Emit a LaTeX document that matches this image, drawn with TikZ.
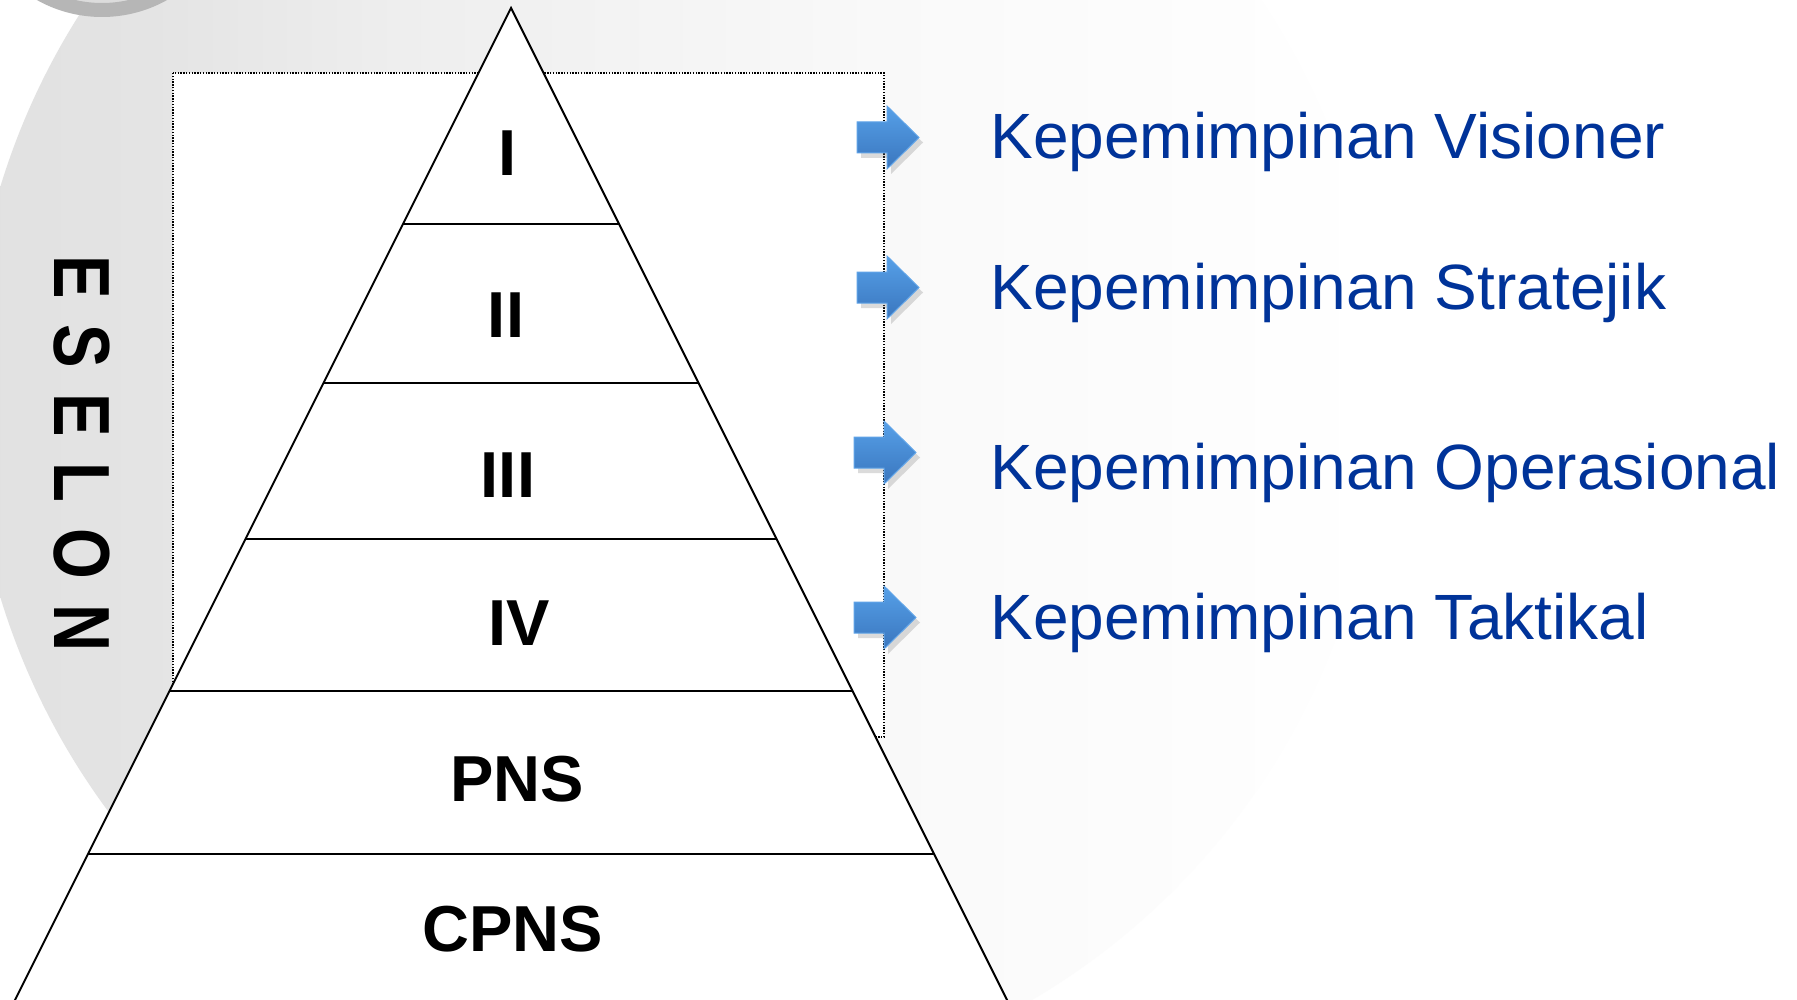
\documentclass[tikz,border=0pt]{standalone}
\usepackage{fontspec}
\setmainfont{Liberation Sans}
\usetikzlibrary{shadows}
\definecolor{txtblue}{RGB}{0,51,153}
\definecolor{arrtop}{RGB}{86,160,232}
\definecolor{arrbot}{RGB}{58,118,190}
\definecolor{arredge}{RGB}{96,164,232}
\definecolor{ringgray}{RGB}{182,182,182}
\definecolor{ringin}{RGB}{220,220,220}
\definecolor{bgA}{RGB}{225,225,225}
\definecolor{bgB}{RGB}{228,228,228}
\definecolor{bgC}{RGB}{238,238,238}
\definecolor{bgD}{RGB}{249,249,249}
\definecolor{bgE}{RGB}{255,255,255}
\pgfdeclarehorizontalshading{bgshade}{100bp}{color(0bp)=(bgA); color(25bp)=(bgA); color(31.4bp)=(bgB); color(40.2bp)=(bgC); color(57.2bp)=(bgD); color(75bp)=(bgE); color(100bp)=(bgE)}
\newcommand\blkarrow[2]{%
  \path[blkarrowstyle] (#1,#2-15.5) -- (#1+30,#2-15.5) -- (#1+30,#2-31.5) -- (#1+62,#2)
    -- (#1+30,#2+31.5) -- (#1+30,#2+15.5) -- (#1,#2+15.5) -- cycle;}
\begin{document}
\begin{tikzpicture}[x=0.5pt,y=-0.5pt,
  blkarrowstyle/.style={top color=arrtop, bottom color=arrbot, draw=arredge, line width=0.5pt,
    drop shadow={opacity=0.28, shadow xshift=2pt, shadow yshift=-2.5pt}},
  tier/.style={draw=black, line width=1pt},
  romlabel/.style={anchor=base, inner sep=0pt, font=\fontsize{32.5pt}{38pt}\selectfont\bfseries},
  leadtext/.style={anchor=base west, inner sep=0pt, text=txtblue, font=\fontsize{32pt}{38pt}\selectfont}]
\useasboundingbox (0,0) rectangle (1797,1000);
\clip (0,0) rectangle (1797,1000);
\fill[white] (0,0) rectangle (1797,1000);
% background shapes
\shade[shading=bgshade] (675,392) circle (705);
\draw[ringgray, line width=7pt, fill=ringin] (102,-116) circle (126);
% dotted frame
\draw[fill=white, line width=0.6pt, dash pattern=on 0.7pt off 0.7pt] (173,73) rectangle (884,737);
% pyramid
\draw[fill=white, line width=1pt, line join=miter] (511,8) -- (1009,1004) -- (13,1004) -- cycle;
\draw[tier] (402.75,224.5) -- (619.25,224.5);
\draw[tier] (323.75,382.5) -- (698.25,382.5);
\draw[tier] (245.75,538.5) -- (776.25,538.5);
\draw[tier] (169.5,691) -- (852.5,691);
\draw[tier] (88,854) -- (934,854);
% tier labels
\node[romlabel] (l1) at (508,176) {I};
\node[romlabel] (l2) at (506,337) {II};
\node[romlabel] (l3) at (508,497.5) {III};
\node[romlabel] (l4) at (519,645) {IV};
\node[romlabel] (l5) at (517,801) {PNS};
\node[romlabel] (l6) at (513,951) {CPNS};
% vertical title
\node[rotate=-90, inner sep=0pt, anchor=center] (eselon) at (81.5,453.5)
  {\fontsize{39.8pt}{40pt}\selectfont\bfseries\scalebox{0.82}[1]{E\kern15.6pt S\kern15.6pt E\kern15.6pt L\kern15.6pt O\kern15.6pt N}};
% arrows
\blkarrow{857}{137.5}
\blkarrow{857}{287.5}
\blkarrow{854}{452.5}
\blkarrow{854}{617.5}
% texts
\node[leadtext] (t1) at (990,159) {Kepemimpinan Visioner};
\node[leadtext] (t2) at (990,309) {Kepemimpinan Stratejik};
\node[leadtext] (t3) at (990,489) {Kepemimpinan Operasional};
\node[leadtext] (t4) at (990,639) {Kepemimpinan Taktikal};
\end{tikzpicture}
\end{document}
